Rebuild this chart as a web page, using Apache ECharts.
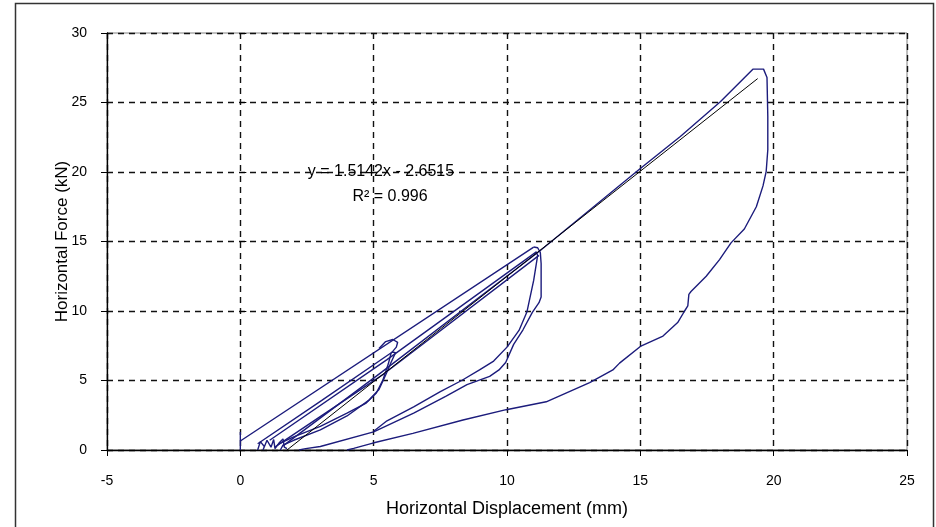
<!DOCTYPE html>
<html>
<head>
<meta charset="utf-8">
<script src="https://cdn.jsdelivr.net/npm/echarts@6/dist/echarts.min.js"></script>
<style>
html,body{margin:0;padding:0;background:#fff;}
#chart{width:936px;height:527px;}
</style>
</head>
<body>
<div id="chart"></div>
<script>
// Axis definitions
const xTicks = [-5, 0, 5, 10, 15, 20, 25];
const yTicks = [0, 5, 10, 15, 20, 25, 30];
const xTitle = 'Horizontal Displacement (mm)';
const yTitle = 'Horizontal Force (kN)';
const trendText1 = 'y = 1.5142x - 2.6515';
const trendText2 = 'R² = 0.996';

// Hysteresis paths (displacement mm, force kN)
const smallCycles = [[0.65,0],[0.75,0.6],[0.9,0.25],[0.85,0],[1.0,0.7],[1.15,0.2],[1.25,0.75],[1.3,0.1],[1.45,0.5],[1.6,0.8],[1.65,0.2],[1.75,0.1]];
const loadOuter = [[0,0],[0,1.3],[0,0.65],[11.0,14.6]];
const loop2Top = [[5.2,7.3],[5.45,7.8],[5.72,7.95],[5.9,7.75],[5.85,7.4],[5.65,6.95],[5.55,6.2],[5.35,5.05],[5.1,4.1],[4.7,3.35],[4.0,2.65],[3.0,1.7],[2.0,0.95],[1.45,0.45],[1.3,0.2]];
const load2b = [[0.65,0.45],[3.0,3.5],[5.7,7.05],[5.82,7.0],[5.65,6.3],[5.45,5.4],[5.2,4.35],[4.8,3.55],[4.0,2.45],[3.0,1.45],[2.0,0.7],[1.6,0.35],[1.5,0]];
const unload3a = [[11.0,14.6],[11.15,14.55],[11.25,14.2],[11.28,13.4],[11.28,11.0],[11.2,10.6],[10.95,9.9],[10.6,8.65],[10.25,7.6],[9.95,6.3],[9.7,5.76],[9.35,5.3],[8.5,4.7],[7.7,3.85],[6.5,2.65],[5.0,1.3],[3.0,0.25],[2.45,0.1],[2.2,0]];
const load3b = [[1.1,0.7],[5.5,6.5],[11.1,14.25],[11.15,14.0],[11.0,12.2],[10.75,9.95],[10.45,8.6],[10.0,7.4],[9.5,6.4],[8.97,5.76],[8.3,5.0],[7.5,4.2],[6.5,3.1],[5.5,2.1],[5.0,1.35]];
const load3c = [[1.4,0.35],[5.4,5.5],[11.2,14.0]];
const load4 = [[1.6,0.3],[5.3,5.6],[11.25,14.35],[15.0,20.25],[16.5,22.55],[18.0,25.05],[19.22,27.4],[19.62,27.4],[19.75,26.8],[19.78,24.0],[19.78,21.6],[19.72,20.05],[19.6,19.0],[19.35,17.5],[18.9,15.9],[18.4,14.9],[17.97,13.7],[17.47,12.5],[16.9,11.4],[16.82,11.2],[16.78,10.36],[16.66,10.0],[16.4,9.17],[15.85,8.2],[15.0,7.45],[14.22,6.25],[13.97,5.76],[13.1,4.85],[11.47,3.47],[9.97,2.9],[8.35,2.16],[6.47,1.2],[4.97,0.5],[4.25,0.12],[4.0,0]];
const trendLine = [[1.75,0],[19.4,26.72]];

const paths = [smallCycles, loadOuter, loop2Top, load2b, unload3a, load3b, load3c, load4];

const chart = echarts.init(document.getElementById('chart'));
const xMin = xTicks[0], xMax = xTicks[xTicks.length-1], xInt = xTicks[1]-xTicks[0];
const yMin = yTicks[0], yMax = yTicks[yTicks.length-1], yInt = yTicks[1]-yTicks[0];
const font = 'Liberation Sans, Arial, sans-serif';

const series = paths.map(p => ({
  type: 'line', data: p, showSymbol: false, smooth: false, animation: false,
  lineStyle: { color: '#1c1c7c', width: 1.4 }, silent: true, z: 3
}));
series.push({
  type: 'line', data: trendLine, showSymbol: false, animation: false,
  lineStyle: { color: '#000', width: 1 }, silent: true, z: 4
});

chart.setOption({
  backgroundColor: '#fff',
  animation: false,
  grid: { left: 107, right: 29, top: 33, bottom: 77, show: true, borderColor: '#808080', borderWidth: 1 },
  xAxis: {
    type: 'value', min: xMin, max: xMax, interval: xInt,
    name: xTitle, nameLocation: 'middle', nameGap: 50, nameMoveOverlap: false,
    nameTextStyle: { fontFamily: font, fontSize: 18, color: '#000' },
    axisLine: { onZero: false, lineStyle: { color: '#000', width: 1.3 } },
    axisTick: { show: true, length: 6, lineStyle: { color: '#000' } },
    axisLabel: { fontFamily: font, fontSize: 14, color: '#000', margin: 24 },
    splitLine: { show: true, lineStyle: { color: '#111', type: [6, 5], width: 1.4 } }
  },
  yAxis: [{
    type: 'value', min: yMin, max: yMax, interval: yInt,
    name: yTitle, nameLocation: 'middle', nameGap: 36, nameRotate: 90, nameMoveOverlap: false,
    nameTextStyle: { fontFamily: font, fontSize: 17, color: '#000' },
    axisLine: { onZero: false, lineStyle: { color: '#000', width: 1.3 } },
    axisTick: { show: true, length: 6, lineStyle: { color: '#000' } },
    axisLabel: { fontFamily: font, fontSize: 14, color: '#000', margin: 20 },
    splitLine: { show: true, lineStyle: { color: '#111', type: [6, 5], width: 1.4 } }
  }, {
    type: 'value', min: yMin, max: yMax, interval: yInt, position: 'left',
    axisLine: { show: false },
    axisTick: { show: true, inside: true, length: 6, lineStyle: { color: '#000' } },
    axisLabel: { show: false }, splitLine: { show: false }
  }],
  graphic: [
    { type: 'rect', left: 13, top: 1, shape: { width: 918, height: 540 }, style: { fill: 'none', stroke: '#333', lineWidth: 1.5 }, silent: true },
    { type: 'text', x: 381, y: 172, style: { text: trendText1, fontFamily: font, fontSize: 16, fill: '#000', textAlign: 'center', textVerticalAlign: 'middle' }, z: 10 },
    { type: 'text', x: 390, y: 197, style: { text: trendText2, fontFamily: font, fontSize: 16, fill: '#000', textAlign: 'center', textVerticalAlign: 'middle' }, z: 10 }
  ],
  series: series
});
</script>
</body>
</html>
